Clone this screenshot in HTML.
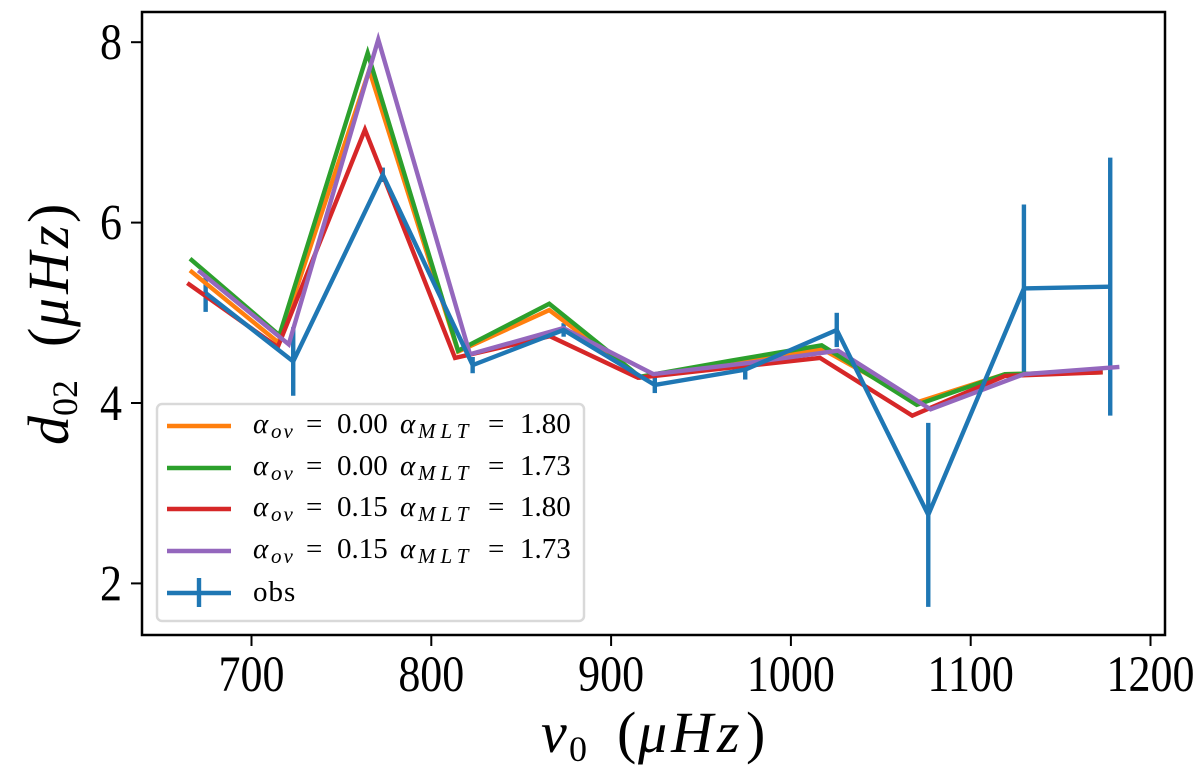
<!DOCTYPE html>
<html>
<head>
<meta charset="utf-8">
<style>
html,body{margin:0;padding:0;background:#fff;}
svg{display:block;}
text{font-family:"Liberation Serif",serif;fill:#000;}
.m{font-style:italic;}
.s{font-style:italic;font-size:21px;}
.ov{letter-spacing:2px;}
.mlt{letter-spacing:5px;}
</style>
</head>
<body>
<svg id="chart" xmlns="http://www.w3.org/2000/svg" width="1200" height="770" viewBox="0 0 1200 770">
  <rect x="142" y="12" width="1023" height="623" fill="#fff"/>
  <g id="bars"></g>
  <g id="series"></g>
  <rect x="142" y="12" width="1023" height="623" fill="none" stroke="#000" stroke-width="2.5"/>
  <g id="xaxis"></g>
  <g id="yaxis"></g>

  <text y="752" font-size="58"><tspan class="m" x="541">ν</tspan><tspan font-size="36" x="569" dy="9">0</tspan><tspan dy="-9" x="617">(</tspan><tspan class="m" x="638" letter-spacing="4">μHz</tspan><tspan x="746">)</tspan></text>
  <text transform="translate(68,445) rotate(-90)" font-size="58"><tspan class="m" x="0">d</tspan><tspan font-size="36" x="29" dy="9">02</tspan><tspan dy="-9" x="98">(</tspan><tspan class="m" x="118" letter-spacing="4">μHz</tspan><tspan x="222">)</tspan></text>

  <g>
    <rect x="157" y="404" width="427" height="217" rx="5" fill="#fff" fill-opacity="0.9" stroke="#d9d9d9" stroke-width="2.5"/>
    <g>
      <line x1="167" x2="231" y1="426" y2="426" stroke="#ff7f0e" stroke-width="4.4"/>
      <text y="433" font-size="29"><tspan class="m" x="253">α</tspan><tspan class="s ov" x="271" dy="5">ov</tspan><tspan x="306" dy="-5">=</tspan><tspan x="337">0.00</tspan><tspan class="m" x="400">α</tspan><tspan class="s mlt" x="418" dy="5">MLT</tspan><tspan x="488" dy="-5">=</tspan><tspan x="520">1.80</tspan></text>
    </g>
    <g>
      <line x1="167" x2="231" y1="468" y2="468" stroke="#2ca02c" stroke-width="4.4"/>
      <text y="475" font-size="29"><tspan class="m" x="253">α</tspan><tspan class="s ov" x="271" dy="5">ov</tspan><tspan x="306" dy="-5">=</tspan><tspan x="337">0.00</tspan><tspan class="m" x="400">α</tspan><tspan class="s mlt" x="418" dy="5">MLT</tspan><tspan x="488" dy="-5">=</tspan><tspan x="520">1.73</tspan></text>
    </g>
    <g>
      <line x1="167" x2="231" y1="509" y2="509" stroke="#d62728" stroke-width="4.4"/>
      <text y="516" font-size="29"><tspan class="m" x="253">α</tspan><tspan class="s ov" x="271" dy="5">ov</tspan><tspan x="306" dy="-5">=</tspan><tspan x="337">0.15</tspan><tspan class="m" x="400">α</tspan><tspan class="s mlt" x="418" dy="5">MLT</tspan><tspan x="488" dy="-5">=</tspan><tspan x="520">1.80</tspan></text>
    </g>
    <g>
      <line x1="167" x2="231" y1="551" y2="551" stroke="#9467bd" stroke-width="4.4"/>
      <text y="558" font-size="29"><tspan class="m" x="253">α</tspan><tspan class="s ov" x="271" dy="5">ov</tspan><tspan x="306" dy="-5">=</tspan><tspan x="337">0.15</tspan><tspan class="m" x="400">α</tspan><tspan class="s mlt" x="418" dy="5">MLT</tspan><tspan x="488" dy="-5">=</tspan><tspan x="520">1.73</tspan></text>
    </g>
    <g>
      <line x1="167" x2="231" y1="593" y2="593" stroke="#1f77b4" stroke-width="4.4"/>
      <line x1="199" x2="199" y1="578" y2="607" stroke="#1f77b4" stroke-width="4.4"/>
      <text x="253" y="601" font-size="29" letter-spacing="1">obs</text>
    </g>
  </g>
</svg>
<script>
const xTicks = [700, 800, 900, 1000, 1100, 1200];
const yTicks = [2, 4, 6, 8];

const obsNu = [674.5, 723.2, 773, 823, 873.6, 924.3, 974.6, 1025.5, 1076.4, 1129.6, 1177.6];
const obsD = [5.22, 4.46, 6.53, 4.42, 4.81, 4.20, 4.37, 4.81, 2.76, 5.27, 5.29];
const obsErr = [0.21, 0.38, 0.08, 0.09, 0.075, 0.09, 0.11, 0.19, 1.02, 0.93, 1.43];

const orangeNu = [665.8, 715, 765.5, 814.9, 865.6, 916, 966.6, 1017.1, 1070.5, 1119.1, 1173.4];
const orangeD = [5.47, 4.67, 7.69, 4.57, 5.03, 4.28, 4.44, 4.60, 4.01, 4.32, 4.34];

const greenNu = [665.8, 715.5, 764.6, 814.9, 865.6, 916, 966.6, 1017.1, 1070, 1119.1, 1173.4];
const greenD = [5.60, 4.75, 7.88, 4.58, 5.10, 4.29, 4.47, 4.64, 3.98, 4.32, 4.34];

const redNu = [664.3, 714.6, 763.1, 813.2, 866, 915, 965.6, 1016.2, 1067.5, 1119, 1173.4];
const redD = [5.33, 4.62, 7.03, 4.50, 4.74, 4.28, 4.39, 4.50, 3.86, 4.30, 4.34];

const purpleNu = [670.4, 720.7, 770.5, 821.5, 873.4, 923.5, 974.8, 1026.2, 1077.7, 1129.6, 1182.7];
const purpleD = [5.47, 4.65, 8.03, 4.54, 4.83, 4.32, 4.44, 4.58, 3.93, 4.32, 4.40];

const NS = 'http://www.w3.org/2000/svg';
function sx(v) { return 251.5 + (v - 700) * 1.798; }
function sy(v) { return 403 - (v - 4) * 90.2; }
function mk(tag, parent) {
  const el = document.createElementNS(NS, tag);
  parent.appendChild(el);
  return el;
}
function polyPoints(nu, d) {
  return nu.map(function (v, i) { return sx(v).toFixed(2) + ',' + sy(d[i]).toFixed(2); }).join(' ');
}
function styleLine(el, color, width) {
  el.setAttribute('fill', 'none');
  el.setAttribute('stroke', color);
  el.setAttribute('stroke-width', width);
  el.setAttribute('stroke-linejoin', 'miter');
}

const barsG = document.getElementById('bars');
const seriesG = document.getElementById('series');
const xG = document.getElementById('xaxis');
const yG = document.getElementById('yaxis');

obsNu.forEach(function (v, i) {
  const b = mk('line', barsG);
  
  
  b.setAttribute('x1', sx(v));
  b.setAttribute('x2', sx(v));
  b.setAttribute('y1', sy(obsD[i] + obsErr[i]));
  b.setAttribute('y2', sy(obsD[i] - obsErr[i]));
  styleLine(b, '#1f77b4', 4.4);
});

const lineOrange = mk('polyline', seriesG);


lineOrange.setAttribute('points', polyPoints(orangeNu, orangeD));
styleLine(lineOrange, '#ff7f0e', 4.4);

const lineGreen = mk('polyline', seriesG);


lineGreen.setAttribute('points', polyPoints(greenNu, greenD));
styleLine(lineGreen, '#2ca02c', 4.4);

const lineRed = mk('polyline', seriesG);


lineRed.setAttribute('points', polyPoints(redNu, redD));
styleLine(lineRed, '#d62728', 4.4);

const linePurple = mk('polyline', seriesG);


linePurple.setAttribute('points', polyPoints(purpleNu, purpleD));
styleLine(linePurple, '#9467bd', 4.4);

const lineObs = mk('polyline', seriesG);


lineObs.setAttribute('points', polyPoints(obsNu, obsD));
styleLine(lineObs, '#1f77b4', 4.4);

xTicks.forEach(function (v) {
  const t = mk('line', xG);
  
  
  t.setAttribute('x1', sx(v));
  t.setAttribute('x2', sx(v));
  t.setAttribute('y1', 635);
  t.setAttribute('y2', 646);
  t.setAttribute('stroke', '#000');
  t.setAttribute('stroke-width', 2);
  const l = mk('text', xG);
  
  
  l.setAttribute('text-anchor', 'middle');
  l.setAttribute('font-size', 44);
  l.setAttribute('transform', 'translate(' + sx(v) + ',691) scale(1,1.15)');
  l.textContent = String(v);
});

yTicks.forEach(function (v) {
  const t = mk('line', yG);
  
  
  t.setAttribute('x1', 131);
  t.setAttribute('x2', 142);
  t.setAttribute('y1', sy(v));
  t.setAttribute('y2', sy(v));
  t.setAttribute('stroke', '#000');
  t.setAttribute('stroke-width', 2);
  const l = mk('text', yG);
  
  
  l.setAttribute('text-anchor', 'end');
  l.setAttribute('font-size', 44);
  l.setAttribute('transform', 'translate(122,' + (sy(v) + 17) + ') scale(1,1.15)');
  l.textContent = String(v);
});
</script>
</body>
</html>
